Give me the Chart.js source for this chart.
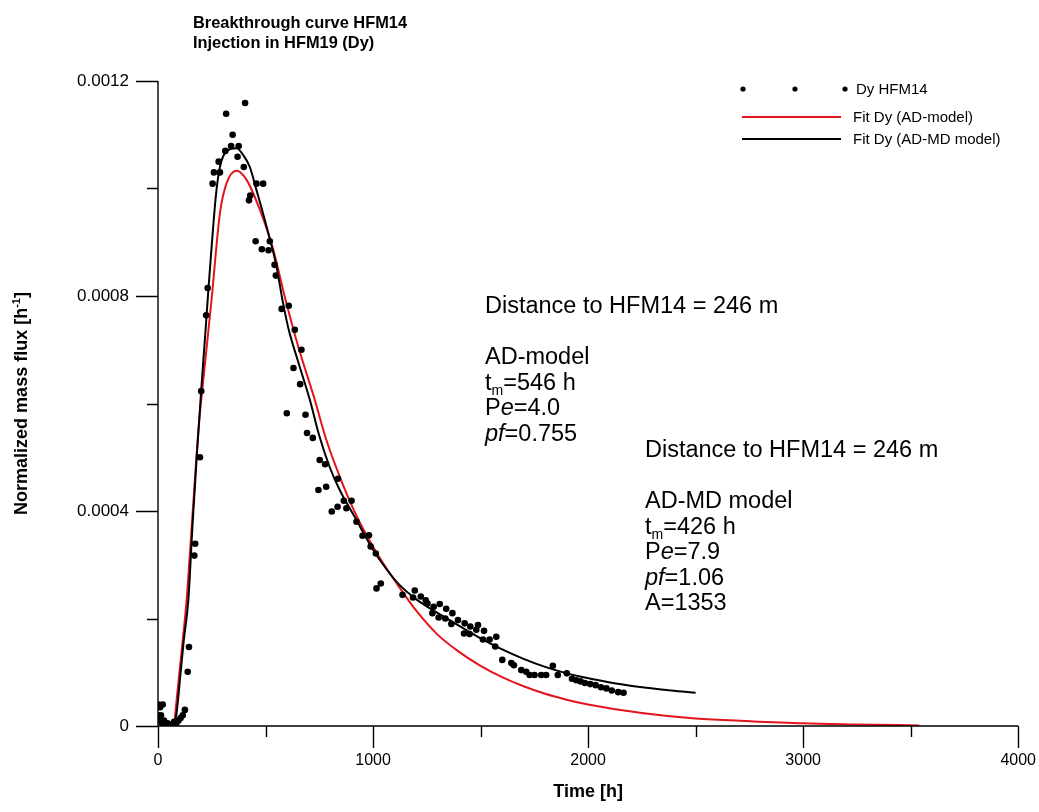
<!DOCTYPE html>
<html>
<head>
<meta charset="utf-8">
<script src="https://cdn.jsdelivr.net/npm/chart.js@4.4.1/dist/chart.umd.min.js"></script>
<style>
  html, body { margin: 0; padding: 0; background: #fff; }
</style>
</head>
<body>
<canvas id="btc" width="1039" height="812"></canvas>
<script>
// measured breakthrough data, HFM14 (injection in HFM19, Dy)
const obsTime = [0, 3, 6, 10, 14, 18, 22, 28, 35, 45, 55, 65, 75, 85, 95, 105, 115, 125,
  138, 144, 169, 173, 195, 201, 224, 231, 254, 260, 282, 288, 313, 317, 340, 347, 370, 375,
  399, 405, 423, 429, 454, 458, 483, 489, 514, 520, 542, 548, 575, 599, 608, 630, 636, 661,
  667, 686, 693, 720, 746, 752, 777, 782, 808, 835, 837, 864, 876, 900, 923, 951, 981, 989,
  1013, 1016, 1036, 1137, 1186, 1194, 1222, 1245, 1253, 1276, 1282, 1305, 1310, 1336, 1340, 1364, 1369, 1395,
  1423, 1426, 1449, 1452, 1480, 1488, 1511, 1516, 1542, 1568, 1573, 1601, 1643, 1655, 1689, 1712, 1728, 1751,
  1782, 1805, 1836, 1859, 1901, 1925, 1945, 1965, 1985, 2010, 2035, 2060, 2085, 2110, 2140, 2165];
const obsFlux = [0.00002, 0.00004, 0.00001, 0.000035, 0.00002, 0.000005, 0.00004, 0.00001, 0, 0.000005, 0, 0.000003, 0.000008, 0.000005, 0.00001, 0.000015, 0.00002, 0.00003,
  0.000101, 0.000147, 0.000317, 0.000339, 0.0005, 0.000623, 0.000764, 0.000815, 0.001009, 0.00103, 0.00105, 0.00103, 0.00107, 0.001139, 0.001079, 0.0011, 0.001059, 0.001079,
  0.00104, 0.001159, 0.000978, 0.000987, 0.000902, 0.001009, 0.000887, 0.001009, 0.000885, 0.000902, 0.000858, 0.000838, 0.000776, 0.000582, 0.000782, 0.000666, 0.000737, 0.000636,
  0.0007, 0.000579, 0.000545, 0.000536, 0.000439, 0.000495, 0.000487, 0.000445, 0.000399, 0.000408, 0.00046, 0.000419, 0.000405, 0.000419, 0.00038, 0.000354, 0.000355, 0.000334,
  0.000321, 0.000256, 0.000265, 0.000244, 0.000239, 0.000252, 0.000241, 0.000234, 0.000228, 0.00021, 0.000222, 0.000202, 0.000227, 0.0002, 0.000218, 0.00019, 0.00021, 0.000197,
  0.000172, 0.000191, 0.000171, 0.000185, 0.000179, 0.000188, 0.000161, 0.000177, 0.000161, 0.000148, 0.000166, 0.000123, 0.000117, 0.000113, 0.000104, 0.000101, 0.000095, 0.000095,
  0.000095, 0.000095, 0.000112, 0.000095, 0.000098, 0.000088, 0.000085, 0.000083, 0.00008, 0.000078, 0.000076, 0.000072, 0.00007, 0.000066, 0.000063, 0.000062];

// fitted AD-model curve (red)
const adTime = [75, 87, 110, 133, 160, 189, 220, 249, 288, 319, 366, 412, 474, 536, 593,
  652, 729, 783, 845, 907, 970, 1031, 1124, 1200, 1300, 1400, 1500, 1600, 1700, 1800, 1900, 2000, 2250, 2500, 2750, 3000, 3250, 3540];
const adFlux = [0, 0.00005, 0.00014, 0.000234, 0.00039, 0.000555, 0.00068, 0.000793, 0.000954, 0.00101, 0.001033, 0.001016, 0.00096, 0.000886, 0.000793,
  0.000706, 0.000607, 0.000532, 0.000464, 0.000405, 0.000355, 0.000313, 0.000257, 0.000215, 0.00017, 0.000138, 0.000112, 0.000091, 0.000074, 0.00006, 0.000049, 0.00004, 0.000024, 0.000014, 0.000009, 0.000005, 0.000003, 0.000001];

// fitted AD-MD model curve (black)
const admdTime = [70, 85, 93, 102, 120, 141, 160, 180, 200, 220, 234, 249, 270, 288, 320, 366, 400, 427, 458, 505,
  551, 580, 608, 650, 706, 750, 800, 845, 923, 1000, 1060, 1124, 1200, 1280, 1356, 1496, 1588, 1700, 1800, 1920, 2037, 2146, 2270, 2386, 2500];
const admdFlux = [0, 0.00002, 0.000048, 0.000086, 0.00016, 0.000234, 0.00037, 0.0005, 0.00062, 0.00073, 0.00081, 0.00089, 0.00099, 0.00104, 0.00107, 0.001075, 0.00106, 0.00104, 0.000997, 0.000929,
  0.000855, 0.00079, 0.000737, 0.00068, 0.000607, 0.00054, 0.00048, 0.000439, 0.000383, 0.000328, 0.000293, 0.000262, 0.000236, 0.000215, 0.000197, 0.000164, 0.000145, 0.000125, 0.00011, 0.000096, 0.000086, 0.000078, 0.000071, 0.000066, 0.000062];

const xLabelTicks = [0, 1000, 2000, 3000, 4000];
const yLabelTicks = [0, 0.0004, 0.0008, 0.0012];

const RED = 'rgb(228, 20, 28)';
const FONT = '"Liberation Sans", Arial, sans-serif';

const pts = (xs, ys) => xs.map((x, i) => ({ x: x, y: ys[i] }));
const isLabelled = (v, list) => list.some(t => Math.abs(t - v) < 1e-9);

// text with italic / subscript / superscript pieces
function drawRuns(ctx, x, y, runs, size, weight) {
  let cx = x;
  for (const [txt, st] of runs) {
    let f = size, dy = 0, ital = '';
    if (st === 'i') ital = 'italic ';
    if (st === 'sub') { f = Math.round(size * 0.6); dy = size * 0.22; }
    if (st === 'sup') { f = Math.round(size * 0.6); dy = -size * 0.38; }
    ctx.font = ital + (weight || '') + ' ' + f + 'px ' + FONT;
    ctx.fillText(txt, cx, y + dy);
    cx += ctx.measureText(txt).width;
  }
  return cx - x;
}

const notes = [
  { x: 485, y: 313, lines: [
    [['Distance to HFM14 = 246 m', '']], [],
    [['AD-model', '']],
    [['t', ''], ['m', 'sub'], ['=546 h', '']],
    [['P', ''], ['e', 'i'], ['=4.0', '']],
    [['pf', 'i'], ['=0.755', '']] ] },
  { x: 645, y: 457, lines: [
    [['Distance to HFM14 = 246 m', '']], [],
    [['AD-MD model', '']],
    [['t', ''], ['m', 'sub'], ['=426 h', '']],
    [['P', ''], ['e', 'i'], ['=7.9', '']],
    [['pf', 'i'], ['=1.06', '']],
    [['A=1353', '']] ] }
];

const decor = {
  id: 'decor',
  afterDraw(chart) {
    const ctx = chart.ctx, a = chart.chartArea;
    const xs = chart.scales.x, ys = chart.scales.y;
    ctx.save();
    ctx.fillStyle = '#000';
    ctx.strokeStyle = '#000';
    ctx.lineWidth = 1.4;

    // axes and outward ticks
    ctx.beginPath();
    ctx.moveTo(a.left, a.top); ctx.lineTo(a.left, a.bottom); ctx.lineTo(a.right, a.bottom);
    ys.ticks.forEach(t => {
      const py = Math.round(ys.getPixelForValue(t.value)) + 0.5;
      const len = isLabelled(t.value, yLabelTicks) ? 22 : 11;
      ctx.moveTo(a.left, py); ctx.lineTo(a.left - len, py);
    });
    xs.ticks.forEach(t => {
      const px = Math.round(xs.getPixelForValue(t.value)) + 0.5;
      const len = isLabelled(t.value, xLabelTicks) ? 22 : 11;
      ctx.moveTo(px, a.bottom); ctx.lineTo(px, a.bottom + len);
    });
    ctx.stroke();

    // title
    ctx.textBaseline = 'alphabetic';
    ctx.textAlign = 'left';
    ctx.font = 'bold 16.4px ' + FONT;
    ctx.fillText('Breakthrough curve HFM14', 193, 28);
    ctx.fillText('Injection in HFM19 (Dy)', 193, 48);

    // axis titles
    ctx.font = 'bold 18px ' + FONT;
    ctx.textAlign = 'center';
    ctx.fillText('Time [h]', (a.left + a.right) / 2, 797);
    ctx.save();
    ctx.translate(27, (a.top + a.bottom) / 2);
    ctx.rotate(-Math.PI / 2);
    ctx.textAlign = 'left';
    const yRuns = [['Normalized mass flux [h', ''], ['-1', 'sup'], [']', '']];
    ctx.globalAlpha = 0;
    const w = drawRuns(ctx, 0, 0, yRuns, 18, 'bold');
    ctx.globalAlpha = 1;
    drawRuns(ctx, -w / 2, 0, yRuns, 18, 'bold');
    ctx.restore();

    // legend
    ctx.textAlign = 'left';
    ctx.font = '15px ' + FONT;
    [743, 795, 845].forEach(px => {
      ctx.beginPath(); ctx.arc(px, 89, 2.6, 0, Math.PI * 2); ctx.fill();
    });
    ctx.fillText(chart.data.datasets[0].label, 856, 94);
    ctx.lineWidth = 2;
    ctx.strokeStyle = RED;
    ctx.beginPath(); ctx.moveTo(742, 117); ctx.lineTo(841, 117); ctx.stroke();
    ctx.fillText(chart.data.datasets[2].label, 853, 122);
    ctx.strokeStyle = '#000';
    ctx.beginPath(); ctx.moveTo(742, 139); ctx.lineTo(841, 139); ctx.stroke();
    ctx.fillText(chart.data.datasets[1].label, 853, 144);

    // model notes
    notes.forEach(n => {
      n.lines.forEach((runs, i) => drawRuns(ctx, n.x, n.y + i * 25.5, runs, 23.5));
    });
    ctx.restore();
  }
};

new Chart(document.getElementById('btc'), {
  type: 'scatter',
  data: {
    datasets: [{
      label: 'Dy HFM14',
      data: pts(obsTime, obsFlux),
      pointRadius: 3.3,
      pointBackgroundColor: '#000',
      pointBorderWidth: 0,
      showLine: false
    }, {
      label: 'Fit Dy (AD-MD model)',
      data: pts(admdTime, admdFlux),
      showLine: true,
      borderColor: '#000',
      borderWidth: 2,
      pointRadius: 0,
      cubicInterpolationMode: 'monotone'
    }, {
      label: 'Fit Dy (AD-model)',
      data: pts(adTime, adFlux),
      showLine: true,
      borderColor: RED,
      borderWidth: 2,
      pointRadius: 0,
      cubicInterpolationMode: 'monotone'
    }]
  },
  options: {
    responsive: false,
    animation: false,
    layout: { padding: { left: 0, right: 20, top: 81, bottom: 0 } },
    plugins: { legend: { display: false }, tooltip: { enabled: false } },
    scales: {
      x: {
        type: 'linear', min: 0, max: 4000,
        afterFit: s => { s.height = 86; },
        border: { display: false },
        grid: { color: 'rgba(0,0,0,0)', drawOnChartArea: false, tickLength: 22, tickColor: 'rgba(0,0,0,0)' },
        ticks: {
          stepSize: 500, padding: 3, color: '#000', maxRotation: 0, autoSkip: false,
          font: { family: FONT, size: 16 },
          callback: v => isLabelled(v, xLabelTicks) ? String(v) : ''
        }
      },
      y: {
        type: 'linear', min: 0, max: 0.0012,
        afterFit: s => { s.width = 158; },
        border: { display: false },
        grid: { color: 'rgba(0,0,0,0)', drawOnChartArea: false, tickLength: 22, tickColor: 'rgba(0,0,0,0)' },
        ticks: {
          stepSize: 0.0002, padding: 7, color: '#000', autoSkip: false,
          font: { family: FONT, size: 17 },
          callback: v => isLabelled(v, yLabelTicks) ? (v === 0 ? '0' : v.toFixed(4)) : ''
        }
      }
    }
  },
  plugins: [decor]
});
</script>
</body>
</html>
